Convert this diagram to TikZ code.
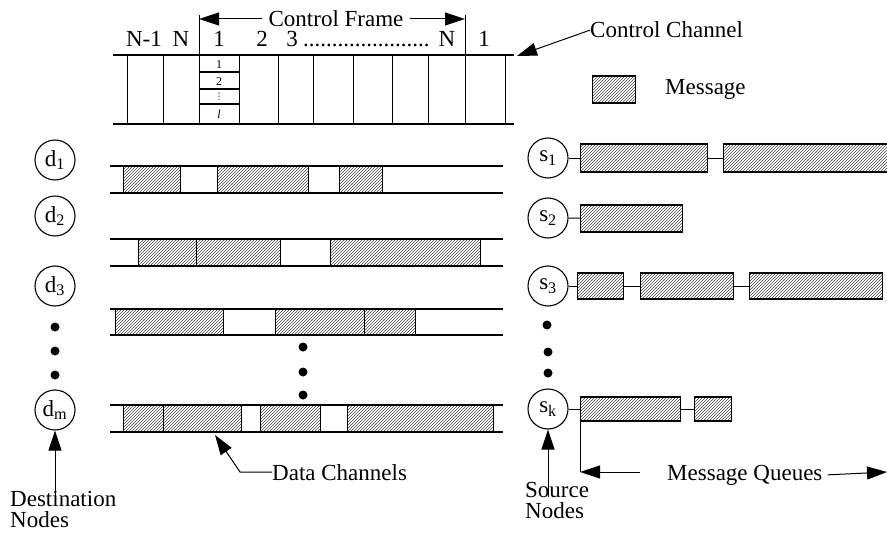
\documentclass[tikz,border=0pt]{standalone}
\usepackage{fontspec}
\setmainfont{Liberation Serif}
\newfontfamily\symfont{DejaVu Sans}
\usetikzlibrary{patterns,arrows.meta}

\tikzset{
  lbl/.style={font=\fontsize{23}{21}\selectfont, inner sep=0pt},
  small/.style={font=\fontsize{12}{12}\selectfont, inner sep=0pt},
  msg/.style={draw, line width=1.2pt, pattern=north east lines,
    pattern color=black!70, inner sep=0pt, anchor=west},
  chan/.style={line width=1.4pt},
  thinline/.style={line width=1pt},
  station/.style={circle, draw, line width=1.1pt, minimum size=40pt,
    inner sep=0pt, font=\fontsize{23}{23}\selectfont},
  bigarrow/.style={line width=1pt, -{Triangle[length=20pt,width=13pt]}},
  dotc/.style={circle, fill, inner sep=0pt, minimum size=9pt},
}

\begin{document}
\begin{tikzpicture}[x=1pt, y=-1pt]
\useasboundingbox (0,0) rectangle (887,551);

% ---------------- control channel ----------------
\draw[chan] (113,55) -- (514,55);
\draw[chan] (113,124) -- (514,124);
\foreach \x in {127,163,239,278,313,353,392,428,505}
  \draw[thinline] (\x,55) -- (\x,124);
\draw[thinline] (199,15) -- (199,124);
\draw[thinline] (465,15) -- (465,124);
% mini-slots of the first slot
\foreach \y in {72,89,104}
  \draw[line width=1.1pt] (199,\y) -- (239,\y);
\node[small, anchor=base] (m1) at (219,69) {1};
\node[small, anchor=base] (m2) at (219,86) {2};
\node[inner sep=0pt, font=\symfont\fontsize{9}{9}\selectfont] (m3) at (219,96.5) {⋮};
\node[small, anchor=base] (m4) at (219,118) {\textit{l}};

% slot numbers
\node[lbl, anchor=base] (tn1) at (144,47) {N-1};
\node[lbl, anchor=base] (tn)  at (181,47) {N};
\node[lbl, anchor=base] (t1)  at (219,47) {1};
\node[lbl, anchor=base] (t2)  at (262,47) {2};
\node[lbl, anchor=base] (t3)  at (292,47) {3};
\node[lbl, anchor=base west] (tdots) at (303,47) {......................};
\node[lbl, anchor=base] (tnn) at (447,47) {N};
\node[lbl, anchor=base] (t1b) at (484,47) {1};

% control frame
\node[lbl, anchor=base] (cf) at (336,27) {Control Frame};
\coordinate (cfl) at (199,19);
\coordinate (cfr) at (465,19);
\coordinate (cfa) at (262,19);
\coordinate (cfb) at (410,19);
\draw[bigarrow] (cfa) -- (cfl);
\draw[bigarrow] (cfb) -- (cfr);

% control channel label
\node[lbl, anchor=base west] (cc) at (590,38) {Control Channel};
\coordinate (cct) at (517,56);
\draw[bigarrow] (cc.west) -- (cct);

% legend
\node[msg, minimum width=43pt, minimum height=27pt] (leg) at (592,89.5) {};
\node[lbl, anchor=base west] (legt) at (665,95) {Message};

% ---------------- data channels ----------------
\foreach \t/\b in {166/193,239/266,309/335,405/432} {
  \draw[chan] (110,\t) -- (503,\t);
  \draw[chan] (110,\b) -- (503,\b);
}
% channel 1
\node[msg, minimum width=57pt, minimum height=27pt] (a1) at (123,179.5) {};
\node[msg, minimum width=91pt, minimum height=27pt] (a2) at (217,179.5) {};
\node[msg, minimum width=43pt, minimum height=27pt] (a3) at (339,179.5) {};
% channel 2
\node[msg, minimum width=58pt, minimum height=27pt] (b1) at (138,252.5) {};
\node[msg, minimum width=84pt, minimum height=27pt] (b2) at (196,252.5) {};
\node[msg, minimum width=150pt, minimum height=27pt] (b3) at (330,252.5) {};
% channel 3
\node[msg, minimum width=108pt, minimum height=26pt] (c1) at (115,322) {};
\node[msg, minimum width=89pt, minimum height=26pt] (c2) at (275,322) {};
\node[msg, minimum width=51pt, minimum height=26pt] (c3) at (364,322) {};
% channel m
\node[msg, minimum width=40pt, minimum height=27pt] (e1) at (123,418.5) {};
\node[msg, minimum width=78pt, minimum height=27pt] (e2) at (163,418.5) {};
\node[msg, minimum width=60pt, minimum height=27pt] (e3) at (260,418.5) {};
\node[msg, minimum width=146pt, minimum height=27pt] (e4) at (347,418.5) {};

\node[dotc] (cd1) at (303,347) {};
\node[dotc] (cd2) at (303,372) {};
\node[dotc] (cd3) at (303,395) {};

% data channels label
\node[lbl, anchor=base west] (dct) at (272,480) {Data Channels};
\coordinate (dca) at (215,435);
\coordinate (dcb) at (240,472);
\draw[bigarrow] (dct.west) -- (dcb) -- (dca);

% ---------------- destination nodes ----------------
\node[station] (d1) at (55,160) {d\textsubscript{1}};
\node[station] (d2) at (55,216) {d\textsubscript{2}};
\node[station] (d3) at (55,286) {d\textsubscript{3}};
\node[dotc] (dd1) at (55,327) {};
\node[dotc] (dd2) at (55,351) {};
\node[dotc] (dd3) at (55,375) {};
\node[station] (dm) at (55,410) {d\textsubscript{m}};

\node[lbl, anchor=base west, align=left] (dn) at (10,527) {Destination\\Nodes};
\coordinate (dna) at (55,504);
\draw[bigarrow] (dna) -- (dm);

% ---------------- source nodes ----------------
\node[station] (s1) at (548,158) {s\textsubscript{1}};
\node[station] (s2) at (548,218) {s\textsubscript{2}};
\node[station] (s3) at (548,286) {s\textsubscript{3}};
\node[dotc] (sd1) at (547,325) {};
\node[dotc] (sd2) at (548,352) {};
\node[dotc] (sd3) at (548,373) {};
\node[station] (sk) at (548,409) {s\textsubscript{k}};

\begin{scope}
\clip (0,0) rectangle (887,551);
\node[msg, minimum width=127pt, minimum height=28pt] (q11) at (580,158) {};
\node[msg, minimum width=180pt, minimum height=28pt] (q12) at (723,158) {};
\end{scope}
\node[msg, minimum width=102pt, minimum height=27pt] (q21) at (580,218.5) {};
\node[msg, minimum width=46pt, minimum height=26pt] (q31) at (577,286) {};
\node[msg, minimum width=93pt, minimum height=26pt] (q32) at (640,286) {};
\node[msg, minimum width=133pt, minimum height=26pt] (q33) at (749,286) {};
\node[msg, minimum width=100pt, minimum height=24pt] (qk1) at (580,409) {};
\node[msg, minimum width=37pt, minimum height=24pt] (qk2) at (694,409) {};

\draw[thinline] (s1) -- (q11);
\draw[thinline] (q11) -- (q12);
\draw[thinline] (s2) -- (q21);
\draw[thinline] (s3) -- (q31);
\draw[thinline] (q31) -- (q32);
\draw[thinline] (q32) -- (q33);
\draw[thinline] (sk) -- (qk1);
\draw[thinline] (qk1) -- (qk2);

\node[lbl, anchor=base west, align=left] (sn) at (525,518) {Source\\Nodes};
\coordinate (sna) at (548,497);
\draw[bigarrow] (sna) -- (sk);

% message queues
\node[lbl, anchor=base west] (mq) at (667,480) {Message Queues};
\coordinate (mqc) at (580,472);
\coordinate (mqa) at (640,472);
\coordinate (mqe) at (887,472);
\draw[thinline] (qk1.south west) -- (mqc);
\draw[bigarrow] (mqa) -- (mqc);
\draw[bigarrow] ([xshift=5pt]mq.east) -- (mqe);
\end{tikzpicture}
\end{document}
